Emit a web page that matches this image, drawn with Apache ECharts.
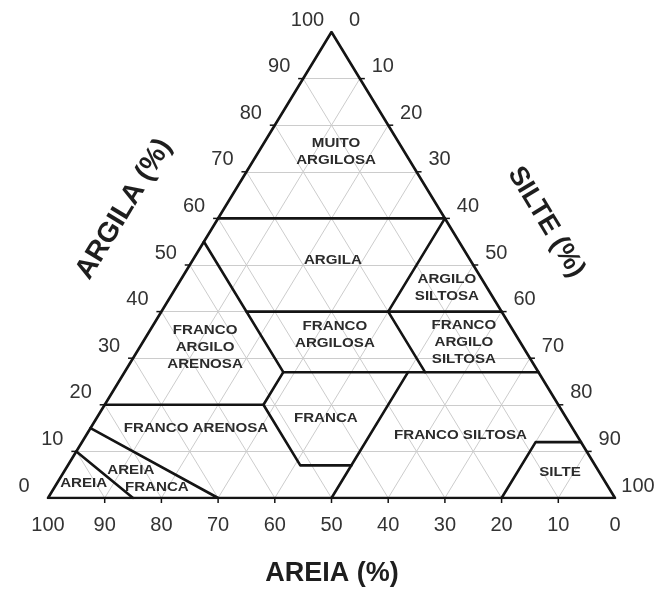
<!DOCTYPE html>
<html>
<head>
<meta charset="utf-8">
<script src="https://cdn.jsdelivr.net/npm/echarts@6/dist/echarts.min.js"></script>
<style>
  html, body { margin: 0; padding: 0; background: #ffffff; }
  #chart { width: 663px; height: 594px; }
</style>
</head>
<body>
<div id="chart"></div>
<script>
// Soil texture triangle (SBCS classes).
// Every point is [areia %, argila %]; silte = 100 - areia - argila.

const tickValues = [0, 10, 20, 30, 40, 50, 60, 70, 80, 90, 100];
const gridSteps = [10, 20, 30, 40, 50, 60, 70, 80, 90];

const triangleOutline = [[100, 0], [0, 100], [0, 0], [100, 0]];

// Class boundary polylines
const classBoundaries = [
  [[40, 60], [0, 60]],                               // muito argilosa / argila
  [[0, 60], [20, 40]],                               // argila / argilo siltosa
  [[45, 40], [0, 40]],                               // argila / franco argilosa
  [[45, 55], [45, 27], [52, 20], [52, 7], [43, 7]],  // franco argilo arenosa / franca edge
  [[45, 27], [0, 27]],                               // franco argilosa / franca, franco siltosa
  [[20, 40], [20, 27]],                              // franco argilosa / franco argilo siltosa
  [[23, 27], [50, 0]],                               // franca / franco siltosa
  [[80, 20], [52, 20]],                              // franco argilo arenosa / franco arenosa
  [[85, 15], [70, 0]],                               // franco arenosa / areia franca
  [[90, 10], [85, 0]],                               // areia franca / areia
  [[20, 0], [8, 12], [0, 12]]                        // silte
];

// Class names and the composition where each name sits
const classNames = [
  'MUITO\nARGILOSA', 'ARGILA', 'ARGILO\nSILTOSA', 'FRANCO\nARGILO\nARENOSA',
  'FRANCO\nARGILOSA', 'FRANCO\nARGILO\nSILTOSA', 'FRANCO ARENOSA', 'FRANCA',
  'FRANCO SILTOSA', 'SILTE', 'AREIA', 'AREIA', 'FRANCA'
];
const classSand = [12.1, 24.2, 7.1, 56.1, 31.9, 9.9, 66.4, 42.5, 20.5, 6.9, 92.1, 82.4, 79.6];
const classClay = [74.2, 51.1, 45.1, 32.4, 35.0, 33.5, 15.0, 17.0, 13.5, 5.6, 3.2, 6.0, 2.4];

// Ternary [areia, argila] -> plane [x, y]
function toPlane(p) {
  return [100 - p[0] - p[1] / 2, p[1]];
}

const FONT = '"Liberation Sans", Arial, Helvetica, sans-serif';

// Gridlines every 10 % in each of the three directions
const gridData = [];
gridSteps.forEach(function (v) {
  gridData.push({ coords: [toPlane([100 - v, v]), toPlane([0, v])] });        // argila constant
  gridData.push({ coords: [toPlane([v, 0]), toPlane([v, 100 - v])] });        // areia constant
  gridData.push({ coords: [toPlane([100 - v, 0]), toPlane([0, 100 - v])] });  // silte constant
});

const boundaryData = classBoundaries.map(function (line) {
  return { coords: line.map(toPlane) };
});

// Axis ticks: side 0 = argila (left), 1 = silte (right), 2 = areia (bottom)
const tickData = [];
tickValues.forEach(function (v) {
  const pl = toPlane([100 - v, v]);
  tickData.push([pl[0], pl[1], 0, v]);
  const pr = toPlane([0, 100 - v]);
  tickData.push([pr[0], pr[1], 1, v]);
  const pb = toPlane([v, 0]);
  tickData.push([pb[0], pb[1], 2, v]);
});

const classData = classNames.map(function (n, i) {
  const p = toPlane([classSand[i], classClay[i]]);
  return [p[0], p[1], i];
});

const tickDir = [[-5, 0], [5, 0], [0, 5]];
const labelOffset = [[-24, -12], [23, -12], [0, 27]];

const edgeAngle = Math.atan2(466, 283.5);

const chart = echarts.init(document.getElementById('chart'), null, { renderer: 'canvas' });
chart.setOption({
  animation: false,
  backgroundColor: '#ffffff',
  grid: { left: 48, right: 48, top: 32, bottom: 96 },
  xAxis: { type: 'value', min: 0, max: 100, show: false },
  yAxis: { type: 'value', min: 0, max: 100, show: false },
  graphic: [
    {
      type: 'text', x: 332, y: 574, z: 10,
      style: { text: 'AREIA (%)', font: 'bold 27px ' + FONT, fill: '#1e1e1e', align: 'center', verticalAlign: 'middle' }
    },
    {
      type: 'text', x: 124, y: 209, rotation: edgeAngle, z: 10,
      style: { text: 'ARGILA (%)', font: 'bold 28px ' + FONT, fill: '#1e1e1e', align: 'center', verticalAlign: 'middle' }
    },
    {
      type: 'text', x: 546, y: 222, rotation: -edgeAngle, z: 10,
      style: { text: 'SILTE (%)', font: 'bold 27px ' + FONT, fill: '#1e1e1e', align: 'center', verticalAlign: 'middle' }
    }
  ],
  series: [
    {
      type: 'lines', coordinateSystem: 'cartesian2d', silent: true, z: 1,
      lineStyle: { color: '#cccccc', width: 1, opacity: 1 },
      data: gridData
    },
    {
      type: 'custom', coordinateSystem: 'cartesian2d', silent: true, z: 5,
      data: classData,
      renderItem: function (params, api) {
        const pt = api.coord([api.value(0), api.value(1)]);
        return {
          type: 'text', x: pt[0], y: pt[1], scaleX: 1.12,
          style: {
            text: classNames[api.value(2)],
            font: 'bold 13.5px ' + FONT, fill: '#2b2b2b',
            align: 'center', verticalAlign: 'middle', lineHeight: 17
          }
        };
      }
    },
    {
      type: 'lines', coordinateSystem: 'cartesian2d', polyline: true, silent: true, z: 3,
      lineStyle: { color: '#141414', width: 2.6, opacity: 1, cap: 'round', join: 'round' },
      data: boundaryData
    },
    {
      type: 'lines', coordinateSystem: 'cartesian2d', polyline: true, silent: true, z: 4,
      lineStyle: { color: '#141414', width: 2.6, opacity: 1, cap: 'round', join: 'round' },
      data: [{ coords: triangleOutline.map(toPlane) }]
    },
    {
      type: 'custom', coordinateSystem: 'cartesian2d', silent: true, z: 6,
      data: tickData,
      renderItem: function (params, api) {
        const pt = api.coord([api.value(0), api.value(1)]);
        const side = api.value(2);
        const v = api.value(3);
        const children = [];
        if (v > 0 && v < 100) {
          children.push({
            type: 'line',
            shape: { x1: pt[0], y1: pt[1], x2: pt[0] + tickDir[side][0], y2: pt[1] + tickDir[side][1] },
            style: { stroke: '#141414', lineWidth: 1.5 }
          });
        }
        children.push({
          type: 'text', x: pt[0] + labelOffset[side][0], y: pt[1] + labelOffset[side][1],
          style: {
            text: String(v), font: '20px ' + FONT, fill: '#333333',
            align: 'center', verticalAlign: 'middle'
          }
        });
        return { type: 'group', children: children };
      }
    }
  ]
});
</script>
</body>
</html>
